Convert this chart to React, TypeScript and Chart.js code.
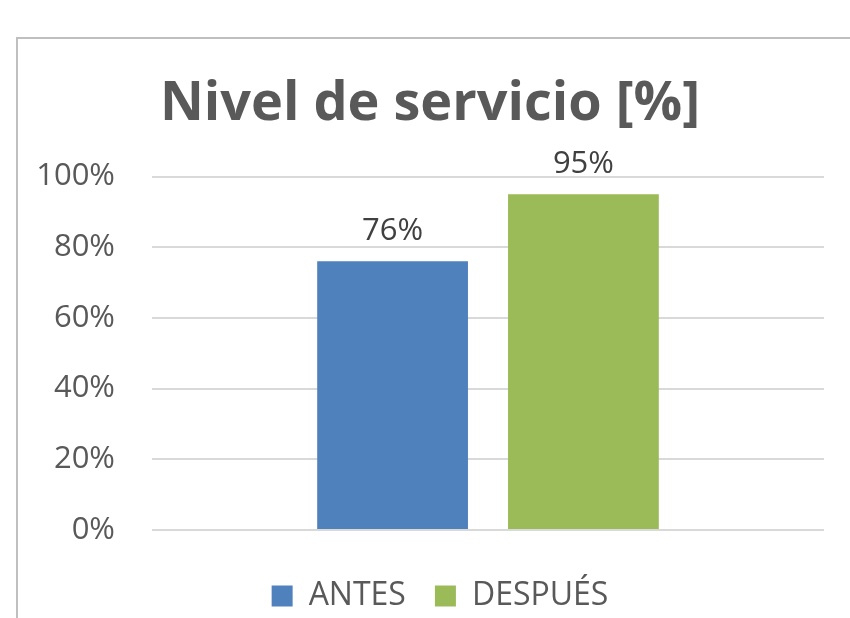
import React, { useEffect, useRef } from "react";
import { Chart, registerables } from "chart.js";
Chart.register(...registerables);

const categories = [""];
const seriesNames = ["ANTES", "DESPUÉS"];
const antes = [0.76];
const despues = [0.95];
const yMin = 0;
const yMax = 1;
const yStep = 0.2;
const titleText = "Nivel de servicio [%]";

const FONT = "'Open Sans', sans-serif";

const pct = (v: number) => Math.round(v * 100) + "%";

const valueLabels = {
  id: "valueLabels",
  afterDatasetsDraw(chart: any) {
    const ctx = chart.ctx;
    ctx.save();
    ctx.font = `31px ${FONT}`;
    ctx.fillStyle = "#404040";
    ctx.textAlign = "center";
    ctx.textBaseline = "alphabetic";
    chart.data.datasets.forEach((ds: any, i: number) => {
      const meta = chart.getDatasetMeta(i);
      meta.data.forEach((el: any, j: number) => {
        ctx.fillText(pct(ds.data[j]), el.x, el.y - 21);
      });
    });
    ctx.restore();
  },
};

// nudge the bottom legend slightly to the right, as in the reference
const legendNudge = {
  id: "legendNudge",
  afterLayout(chart: any) {
    const lg = chart.legend;
    if (lg) {
      lg.left += 10;
      lg.right += 10;
    }
  },
};

export default function App() {
  const ref = useRef<HTMLCanvasElement | null>(null);
  useEffect(() => {
    if (!ref.current) return;
    const chart = new Chart(ref.current, {
      type: "bar",
      data: {
        labels: categories,
        datasets: [
          {
            label: seriesNames[0],
            data: antes,
            backgroundColor: "#4F81BD",
            borderWidth: 0,
            categoryPercentage: 0.568,
            barPercentage: 0.79,
          },
          {
            label: seriesNames[1],
            data: despues,
            backgroundColor: "#9BBB59",
            borderWidth: 0,
            categoryPercentage: 0.568,
            barPercentage: 0.79,
          },
        ],
      },
      options: {
        responsive: false,
        animation: false,
        layout: { padding: { left: 36, right: 26, top: 0, bottom: 0 } },
        plugins: {
          title: {
            display: true,
            text: titleText,
            color: "#595959",
            font: { family: FONT, size: 54, weight: "bold", lineHeight: 1.2 },
            padding: { top: 72.6, bottom: 39.1 },
          },
          legend: {
            position: "bottom",
            labels: {
              boxWidth: 21,
              boxHeight: 21,
              padding: 29,
              color: "#595959",
              font: { family: FONT, size: 32 },
            },
          },
          tooltip: { enabled: false },
        },
        scales: {
          x: {
            grid: { display: false },
            border: { display: false },
            ticks: { display: false },
            afterFit: (s: any) => {
              s.height = 21;
            },
          },
          y: {
            min: yMin,
            max: yMax,
            grid: { color: "#D9D9D9", lineWidth: 2, drawTicks: false },
            border: { display: false },
            ticks: {
              stepSize: yStep,
              padding: 37,
              color: "#595959",
              font: { family: FONT, size: 31 },
              callback: (v: any) => pct(Number(v)),
            },
            afterFit: (s: any) => {
              s.width = 116;
            },
          },
        },
      },
      plugins: [valueLabels, legendNudge],
    } as any);
    return () => chart.destroy();
  }, []);
  return (
    <div
      style={{
        position: "fixed",
        left: 0,
        top: 0,
        width: 850,
        height: 618,
        overflow: "hidden",
        background: "#fff",
      }}
    >
      <div
        style={{
          position: "absolute",
          left: 16,
          top: 37,
          width: 900,
          height: 700,
          borderTop: "2px solid #BFBFBF",
          borderLeft: "2px solid #BFBFBF",
        }}
      />
      <div style={{ position: "absolute", left: 0, top: 0, width: 850, height: 622 }}>
        <canvas ref={ref} width={850} height={622} style={{ width: 850, height: 622, display: "block" }} />
      </div>
    </div>
  );
}
